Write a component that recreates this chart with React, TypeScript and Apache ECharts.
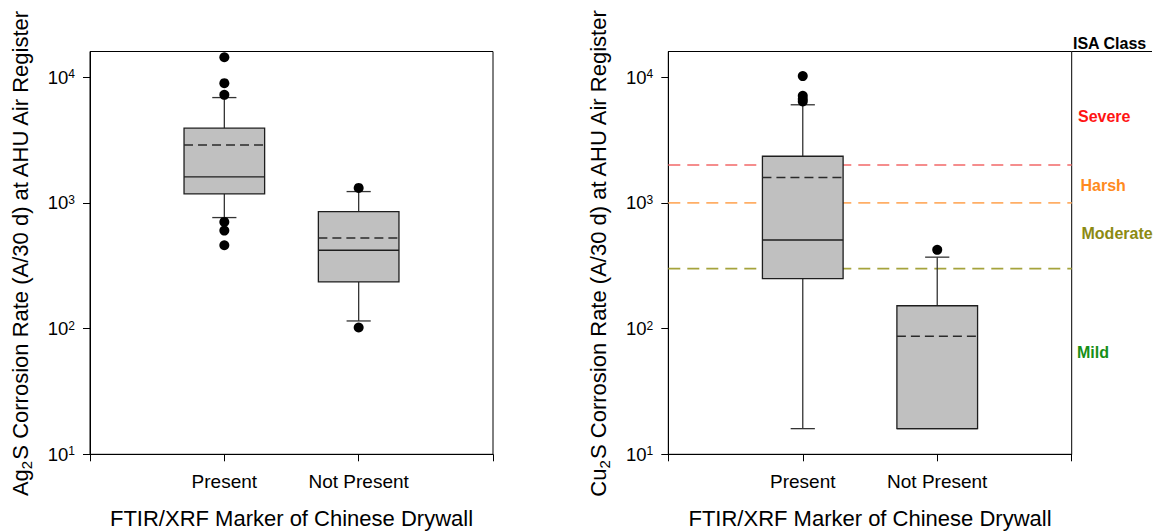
import React, { useEffect, useRef } from "react";
import * as echarts from "echarts";

// ---- data ----
const categories = ["", "Present", "Not Present", ""];
const yTickValues = [10, 100, 1000, 10000];
// [x, lowerWhisker, Q1, median, Q3, upperWhisker, mean]
const ag2sPresent = [1, 764, 1178, 1610, 3930, 6880, 2890];
const ag2sNotPresent = [2, 115, 235, 420, 853, 1230, 526];
const ag2sOutliers = [
  [1, 14400], [1, 8960], [1, 7230], [1, 706], [1, 602], [1, 460],
  [2, 1315], [2, 102],
];
const cu2sPresent = [1, 16, 250, 507, 2350, 6030, 1590];
const cu2sNotPresent = [2, 16, 16, 16, 152, 370, 87];
const cu2sOutliers = [
  [1, 10200], [1, 7100], [1, 6700], [1, 6400],
  [2, 423],
];
const isaThresholds = [2000, 1000, 300];
const isaThresholdColors = ["#f26868", "#ffae66", "#a5a33c"];
const isaClasses = ["Severe", "Harsh", "Moderate", "Mild"];
const isaClassColors = ["#ff1414", "#ff8a1e", "#8c8a12", "#178f17"];
const isaClassY = [116, 185, 233, 352];
const isaClassX = [1078, 1080.5, 1081.5, 1077];
const xTitle = "FTIR/XRF Marker of Chinese Drywall";

const FONT = '"Liberation Sans", Arial, sans-serif';

const renderBox = (params: any, api: any) => {
  const x = api.value(0);
  const lo = api.value(1);
  const q1 = api.value(2);
  const med = api.value(3);
  const q3 = api.value(4);
  const hi = api.value(5);
  const mean = api.value(6);
  const xl = api.coord([x - 0.3, q1])[0];
  const xr = api.coord([x + 0.3, q1])[0];
  const xc = api.coord([x, q1])[0];
  const cl = api.coord([x - 0.09, q1])[0];
  const cr = api.coord([x + 0.09, q1])[0];
  const y = (v: number) => api.coord([x, v])[1];
  const whiskerStyle = { stroke: "#333", lineWidth: 1.3 };
  const children: any[] = [];
  if (hi > q3) {
    children.push({ type: "line", shape: { x1: xc, y1: y(q3), x2: xc, y2: y(hi) }, style: whiskerStyle });
    children.push({ type: "line", shape: { x1: cl, y1: y(hi), x2: cr, y2: y(hi) }, style: whiskerStyle });
  }
  if (lo < q1) {
    children.push({ type: "line", shape: { x1: xc, y1: y(q1), x2: xc, y2: y(lo) }, style: whiskerStyle });
    children.push({ type: "line", shape: { x1: cl, y1: y(lo), x2: cr, y2: y(lo) }, style: whiskerStyle });
  }
  children.push({
    type: "rect",
    shape: { x: xl, y: y(q3), width: xr - xl, height: y(q1) - y(q3) },
    style: { fill: "#c0c0c0", stroke: "#1e1e1e", lineWidth: 1.3 },
  });
  children.push({
    type: "line",
    shape: { x1: xl, y1: y(med), x2: xr, y2: y(med) },
    style: { stroke: "#1e1e1e", lineWidth: 1.4 },
  });
  children.push({
    type: "line",
    shape: { x1: xl, y1: y(mean), x2: xr, y2: y(mean) },
    style: { stroke: "#2a2a2a", lineWidth: 1.4, lineDash: [9, 5] },
  });
  return { type: "group", children };
};

const yLabelFormatter = (v: number) => {
  const e = Math.round(Math.log10(v));
  return `{b|10}{s|${e}}`;
};

const makeYAxis = (gridIndex: number, name: string) => ({
  type: "log",
  logBase: 10,
  gridIndex,
  min: 10,
  max: 16000,
  axisLine: { show: true, lineStyle: { color: "#000", width: 1 } },
  axisTick: { show: true, length: 7, customValues: yTickValues, lineStyle: { color: "#000" } },
  minorTick: { show: false },
  splitLine: { show: false },
  axisLabel: {
    margin: 15,
    customValues: yTickValues,
    formatter: yLabelFormatter,
    color: "#000",
    rich: {
      b: { fontSize: 18.5, fontFamily: FONT, color: "#000" },
      s: { fontSize: 12, fontFamily: FONT, color: "#000", padding: [0, 0, 6, 0] },
    },
  },
  name,
  nameLocation: "middle",
  nameGap: 56,
  nameRotate: 90,
  nameTextStyle: {
    rich: {
      t: { fontSize: 22, fontFamily: FONT, color: "#000" },
      sub: { fontSize: 15, fontFamily: FONT, color: "#000", padding: [13, 0, 0, 0] },
    },
  },
});

const makeXAxis = (gridIndex: number) => ({
  type: "value",
  gridIndex,
  min: 0,
  max: 3,
  interval: 1,
  axisLine: { show: true, lineStyle: { color: "#000", width: 1 } },
  axisTick: { show: true, length: 7, lineStyle: { color: "#000" } },
  splitLine: { show: false },
  axisLabel: {
    margin: 18,
    fontSize: 19,
    fontFamily: FONT,
    color: "#000",
    showMinLabel: true,
    showMaxLabel: true,
    formatter: (v: number) => categories[Math.round(v)] || "",
  },
  name: xTitle,
  nameLocation: "middle",
  nameGap: 53,
  nameTextStyle: { fontSize: 22, fontFamily: FONT, color: "#000" },
});

export default function App() {
  const ref = useRef<HTMLDivElement>(null);
  useEffect(() => {
    if (!ref.current) return;
    const chart = echarts.init(ref.current, undefined, { renderer: "svg" });
    const gridBase = {
      top: 51.5,
      height: 402.8,
      show: true,
      borderColor: "#000",
      borderWidth: 1,
      backgroundColor: "transparent",
      containLabel: false,
      outerBoundsMode: "none",
    };
    const option: any = {
      animation: false,
      backgroundColor: "#fff",
      textStyle: { fontFamily: FONT },
      grid: [
        { ...gridBase, left: 90, width: 403 },
        { ...gridBase, left: 668.3, width: 403.4 },
      ],
      xAxis: [makeXAxis(0), makeXAxis(1)],
      yAxis: [
        makeYAxis(0, "{t|Ag}{sub|2}{t|S Corrosion Rate (A/30 d) at AHU Air Register}"),
        makeYAxis(1, "{t|Cu}{sub|2}{t|S Corrosion Rate (A/30 d) at AHU Air Register}"),
      ],
      series: [
        ...isaThresholds.map((t, i) => ({
          type: "line",
          xAxisIndex: 1,
          yAxisIndex: 1,
          data: [[0, t], [3, t]],
          symbol: "none",
          silent: true,
          z: 1,
          lineStyle: { color: isaThresholdColors[i], width: 1.6, type: [12, 7] },
        })),
        {
          type: "custom",
          xAxisIndex: 0,
          yAxisIndex: 0,
          renderItem: renderBox,
          data: [ag2sPresent, ag2sNotPresent],
          z: 3,
        },
        {
          type: "custom",
          xAxisIndex: 1,
          yAxisIndex: 1,
          renderItem: renderBox,
          data: [cu2sPresent, cu2sNotPresent],
          z: 3,
        },
        {
          type: "scatter",
          xAxisIndex: 0,
          yAxisIndex: 0,
          data: ag2sOutliers,
          symbol: "circle",
          symbolSize: 10,
          itemStyle: { color: "#000", opacity: 1 },
          z: 4,
        },
        {
          type: "scatter",
          xAxisIndex: 1,
          yAxisIndex: 1,
          data: cu2sOutliers,
          symbol: "circle",
          symbolSize: 10,
          itemStyle: { color: "#000", opacity: 1 },
          z: 4,
        },
      ],
      graphic: [
        {
          type: "line",
          shape: { x1: 1071.7, y1: 51.5, x2: 1152, y2: 51.5 },
          style: { stroke: "#000", lineWidth: 1 },
        },
        {
          type: "text",
          x: 1073,
          y: 43,
          style: { text: "ISA Class", fill: "#000", font: `bold 16px ${FONT}`, verticalAlign: "middle" },
        },
        ...isaClasses.map((c, i) => ({
          type: "text",
          x: isaClassX[i],
          y: isaClassY[i],
          style: { text: c, fill: isaClassColors[i], font: `bold 16px ${FONT}`, verticalAlign: "middle" },
        })),
      ],
    };
    chart.setOption(option);
    return () => chart.dispose();
  }, []);
  return (
    <div
      ref={ref}
      style={{ position: "fixed", left: 0, top: 0, width: 1156, height: 532, background: "#fff" }}
    />
  );
}
